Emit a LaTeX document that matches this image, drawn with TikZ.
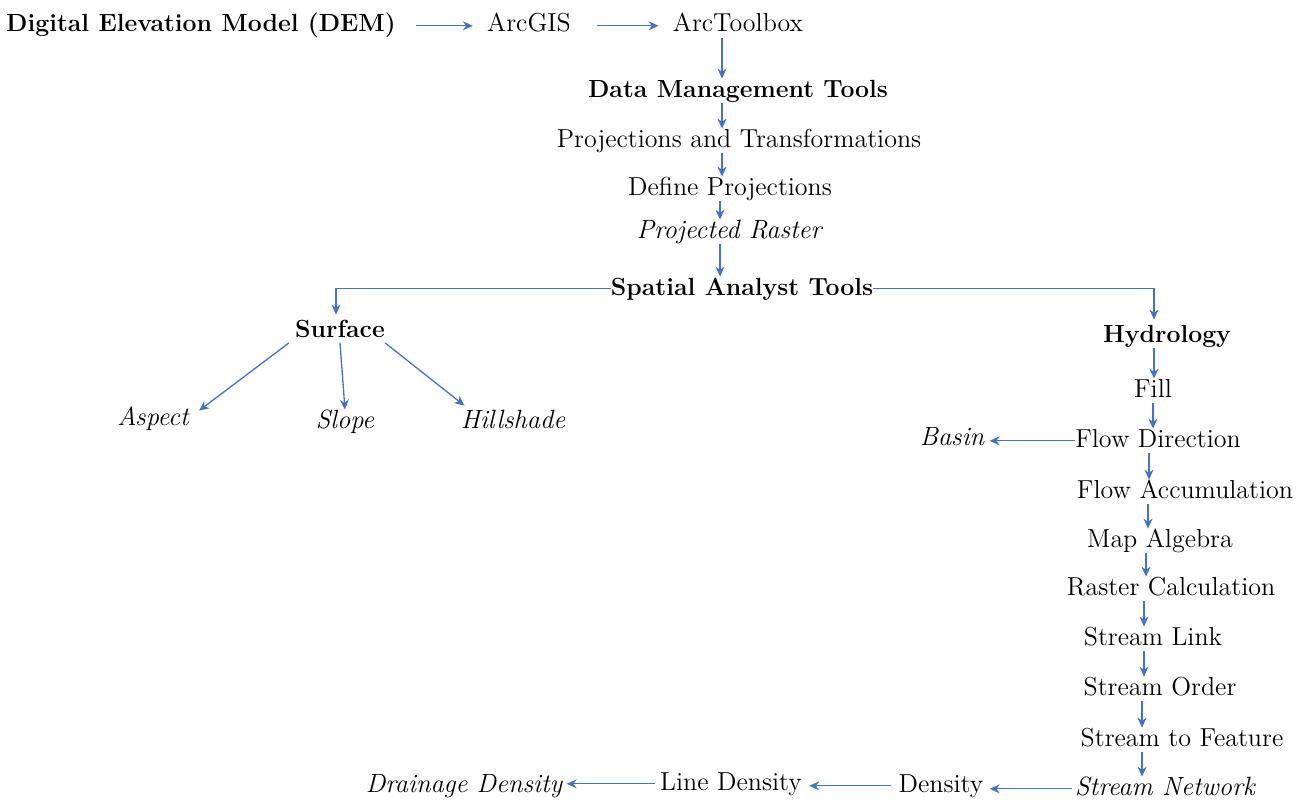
\documentclass[tikz,border=0pt]{standalone}
\usepackage{tikz}
\usetikzlibrary{arrows.meta}
\definecolor{arrowblue}{RGB}{68,114,196}
\tikzset{
    plainlabel/.style ={
        anchor=base,
        inner sep=0pt,
        text height=9pt,
        text depth=2.8pt,
        font=\fontsize{13}{16}\selectfont
    },
    boldlabel/.style ={
        plainlabel,
        font=\fontsize{12.4}{15}\selectfont\bfseries
    },
    itlabel/.style ={
        plainlabel,
        font=\fontsize{13.2}{16}\selectfont\itshape
    },
    link/.style ={
        draw=arrowblue,
        line width=0.65pt,
        -{Stealth[length=5pt,width=4.5pt]}
    }
}

\begin{document}
\begin{tikzpicture}[x=0.5pt,y=-0.5pt]
    \useasboundingbox (0,0) rectangle (1309,803);
    % top row and tool chain
    \node[boldlabel] (dem) at(201,32) {Digital Elevation Model (DEM)};
    \node[plainlabel] (arcgis) at(529,32) {ArcGIS};
    \node[plainlabel] (arctb) at(738,32) {ArcToolbox};
    \node[boldlabel] (dmt) at(738,97) {Data Management Tools};
    \node[plainlabel] (proj) at(739,147) {Projections and Transformations};
    \node[plainlabel] (defproj) at(730,195) {Define Projections};
    \node[itlabel] (projras) at(729,238) {Projected Raster};
    \node[boldlabel] (spatial) at(742,295) {Spatial Analyst Tools};
    % surface branch
    \node[boldlabel] (surface) at(340,337) {Surface};
    \node[itlabel] (aspect) at(153,425) {Aspect};
    \node[itlabel] (slope) at(345,428) {Slope};
    \node[itlabel] (hill) at(513,428) {Hillshade};
    % hydrology branch
    \node[boldlabel] (hydro) at(1167,342) {Hydrology};
    \node[plainlabel] (fill) at(1153,397) {Fill};
    \node[plainlabel] (flowdir) at(1158,447) {Flow Direction};
    \node[itlabel] (basin) at(952,445) {Basin};
    \node[plainlabel] (flowacc) at(1185,498) {Flow Accumulation};
    \node[plainlabel] (mapalg) at(1160,547) {Map Algebra};
    \node[plainlabel] (rascalc) at(1171,595) {Raster Calculation};
    \node[plainlabel] (slink) at(1153,645) {Stream Link};
    \node[plainlabel] (sorder) at(1160,695) {Stream Order};
    \node[plainlabel] (sfeat) at(1182,746) {Stream to Feature};
    \node[itlabel] (snet) at(1165,795) {Stream Network};
    \node[plainlabel] (dens) at(941,792) {Density};
    \node[plainlabel] (lined) at(731,790) {Line Density};
    \node[itlabel] (drain) at(464,792) {Drainage Density};

    \draw[link,shorten <=10pt,shorten >=7pt] (dem) -- (arcgis);
    \draw[link,shorten <=13pt,shorten >=7pt] (arcgis) -- (arctb);
    \draw[link] ([xshift=-8pt]arctb.south) -- ([xshift=-8pt]arctb.south |- dmt.north);
    \draw[link] ([xshift=-8pt]dmt.south) -- ([xshift=-8pt]dmt.south |- proj.north);
    \draw[link] ([xshift=-8.5pt]proj.south) -- ([xshift=-8.5pt]proj.south |- defproj.north);
    \draw[link] ([xshift=-5pt]defproj.south) -- ([xshift=-5pt]defproj.south |- projras.north);
    \draw[link] ([xshift=-4.5pt]projras.south) -- ([xshift=-4.5pt]projras.south |- spatial.north);

    \draw[link,shorten >=2pt] (spatial.west) -| ([xshift=-2pt]surface.north);
    \draw[link,shorten >=2pt] (spatial.east) -| ([xshift=-6.5pt]hydro.north);
    \draw[link] ([xshift=-3pt]surface.south west) -- ([xshift=5pt,yshift=-2pt]aspect.north east);
    \draw[link] (surface.south) -- (slope.north);
    \draw[link] (surface.south east) -- ([xshift=2pt,yshift=2pt]hill.north west);

    \draw[link] ([xshift=-6.5pt]hydro.south) -- ([xshift=-6.5pt]hydro.south |- fill.north);
    \draw[link] (fill.south) -- (fill.south |- flowdir.north);
    \draw[link,shorten >=2.5pt] (flowdir.west) -- (flowdir.west -| basin.east);
    \draw[link] ([xshift=-4.5pt]flowdir.south) -- ([xshift=-4.5pt]flowdir.south |- flowacc.north);
    \draw[link] ([xshift=-18.5pt]flowacc.south) -- ([xshift=-18.5pt]flowacc.south |- mapalg.north);
    \draw[link] ([xshift=-7pt]mapalg.south) -- ([xshift=-7pt]mapalg.south |- rascalc.north);
    \draw[link] ([xshift=-13.5pt]rascalc.south) -- ([xshift=-13.5pt]rascalc.south |- slink.north);
    \draw[link] ([xshift=-4.5pt]slink.south) -- ([xshift=-4.5pt]slink.south |- sorder.north);
    \draw[link] ([xshift=-9pt]sorder.south) -- ([xshift=-9pt]sorder.south |- sfeat.north);
    \draw[link] ([xshift=-20pt]sfeat.south) -- ([xshift=-20pt]sfeat.south |- snet.north);

    \draw[link,shorten <=1.5pt,shorten >=3pt] (snet.west) -- (snet.west -| dens.east);
    \draw[link,shorten <=3.5pt,shorten >=3.5pt] (dens.west) -- (dens.west -| lined.east);
    \draw[link,shorten <=2.5pt,shorten >=2pt] (lined.west) -- (lined.west -| drain.east);
\end{tikzpicture}
\end{document}
